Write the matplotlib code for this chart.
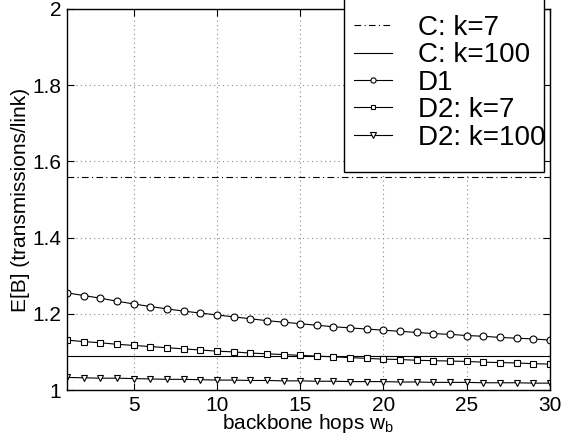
import numpy as np
import matplotlib
matplotlib.use("Agg")
import matplotlib.pyplot as plt
from matplotlib.patches import Rectangle

plt.rcParams['font.family'] = ['Liberation Sans', 'DejaVu Sans']

hops = list(range(1, 31))
c_k7 = 1.56
c_k100 = 1.089
d1 = [1.255, 1.248, 1.241, 1.233, 1.226, 1.219, 1.213, 1.207, 1.202, 1.197,
      1.192, 1.187, 1.182, 1.178, 1.174, 1.170, 1.166, 1.163, 1.160, 1.157,
      1.154, 1.151, 1.148, 1.146, 1.143, 1.141, 1.138, 1.136, 1.134, 1.131]
d2_k7 = [1.131, 1.127, 1.124, 1.120, 1.117, 1.114, 1.111, 1.108, 1.105, 1.102,
         1.100, 1.097, 1.095, 1.093, 1.091, 1.089, 1.087, 1.085, 1.083, 1.081,
         1.080, 1.078, 1.077, 1.076, 1.075, 1.073, 1.072, 1.071, 1.069, 1.068]
d2_k100 = [1.033, 1.032, 1.031, 1.031, 1.030, 1.029, 1.028, 1.028, 1.027, 1.026,
           1.026, 1.025, 1.025, 1.024, 1.024, 1.023, 1.023, 1.022, 1.022, 1.022,
           1.021, 1.021, 1.020, 1.020, 1.020, 1.019, 1.019, 1.019, 1.018, 1.018]

W, H = 565, 440
fig = plt.figure(figsize=(W / 100, H / 100), dpi=100)
ax = fig.add_axes([67 / W, 50 / H, 483 / W, 381 / H])

lw = 0.8
mk = dict(markersize=5, markerfacecolor='white', markeredgecolor='black',
          markeredgewidth=0.8)
ax.plot([hops[0], hops[-1]], [c_k7, c_k7], color='black', lw=lw,
        linestyle=(0, (6, 3, 1, 3)), label='C: k=7')
ax.plot([hops[0], hops[-1]], [c_k100, c_k100], color='black', lw=lw,
        label='C: k=100')
ax.plot(hops, d1, color='black', lw=lw, marker='o', label='D1', **mk)
ax.plot(hops, d2_k7, color='black', lw=lw, marker='s', label='D2: k=7',
        **dict(mk, markersize=4.5))
ax.plot(hops, d2_k100, color='black', lw=lw, marker='v', label='D2: k=100', **mk)

ax.set_xlim(1, 30)
ax.set_ylim(1, 2)
ax.set_xticks([5, 10, 15, 20, 25, 30])
ax.set_yticks([1, 1.2, 1.4, 1.6, 1.8, 2])
ax.set_yticklabels(['1', '1.2', '1.4', '1.6', '1.8', '2'])
ax.tick_params(direction='in', top=True, right=True, labelsize=15, length=5,
               width=0.8, pad=4)
ax.grid(True, linestyle=(0, (1, 3)), color='#888888', linewidth=0.8)
for s in ax.spines.values():
    s.set_linewidth(1.0)

ax.set_xlabel('backbone hops w$_\\mathregular{b}$', fontsize=15, labelpad=-2)
ax.set_ylabel('E[B] (transmissions/link)', fontsize=15, labelpad=2)

# legend box runs off the top of the figure, like the original
box = Rectangle((344 / W, (H - 172) / H), 200 / W, 0.5, transform=fig.transFigure,
                facecolor='white', edgecolor='black', linewidth=1.0, zorder=3)
fig.patches.append(box)
handles, labels = ax.get_legend_handles_labels()
leg = fig.legend(handles, labels, loc='upper left',
                 bbox_to_anchor=(354 / W, (H - 15) / H), fontsize=20,
                 frameon=False, handlelength=1.37, handletextpad=0.94,
                 borderpad=0, labelspacing=0.05, borderaxespad=0,
                 markerscale=0.75)
leg.set_zorder(4)

fig.savefig('out.png', dpi=100)
